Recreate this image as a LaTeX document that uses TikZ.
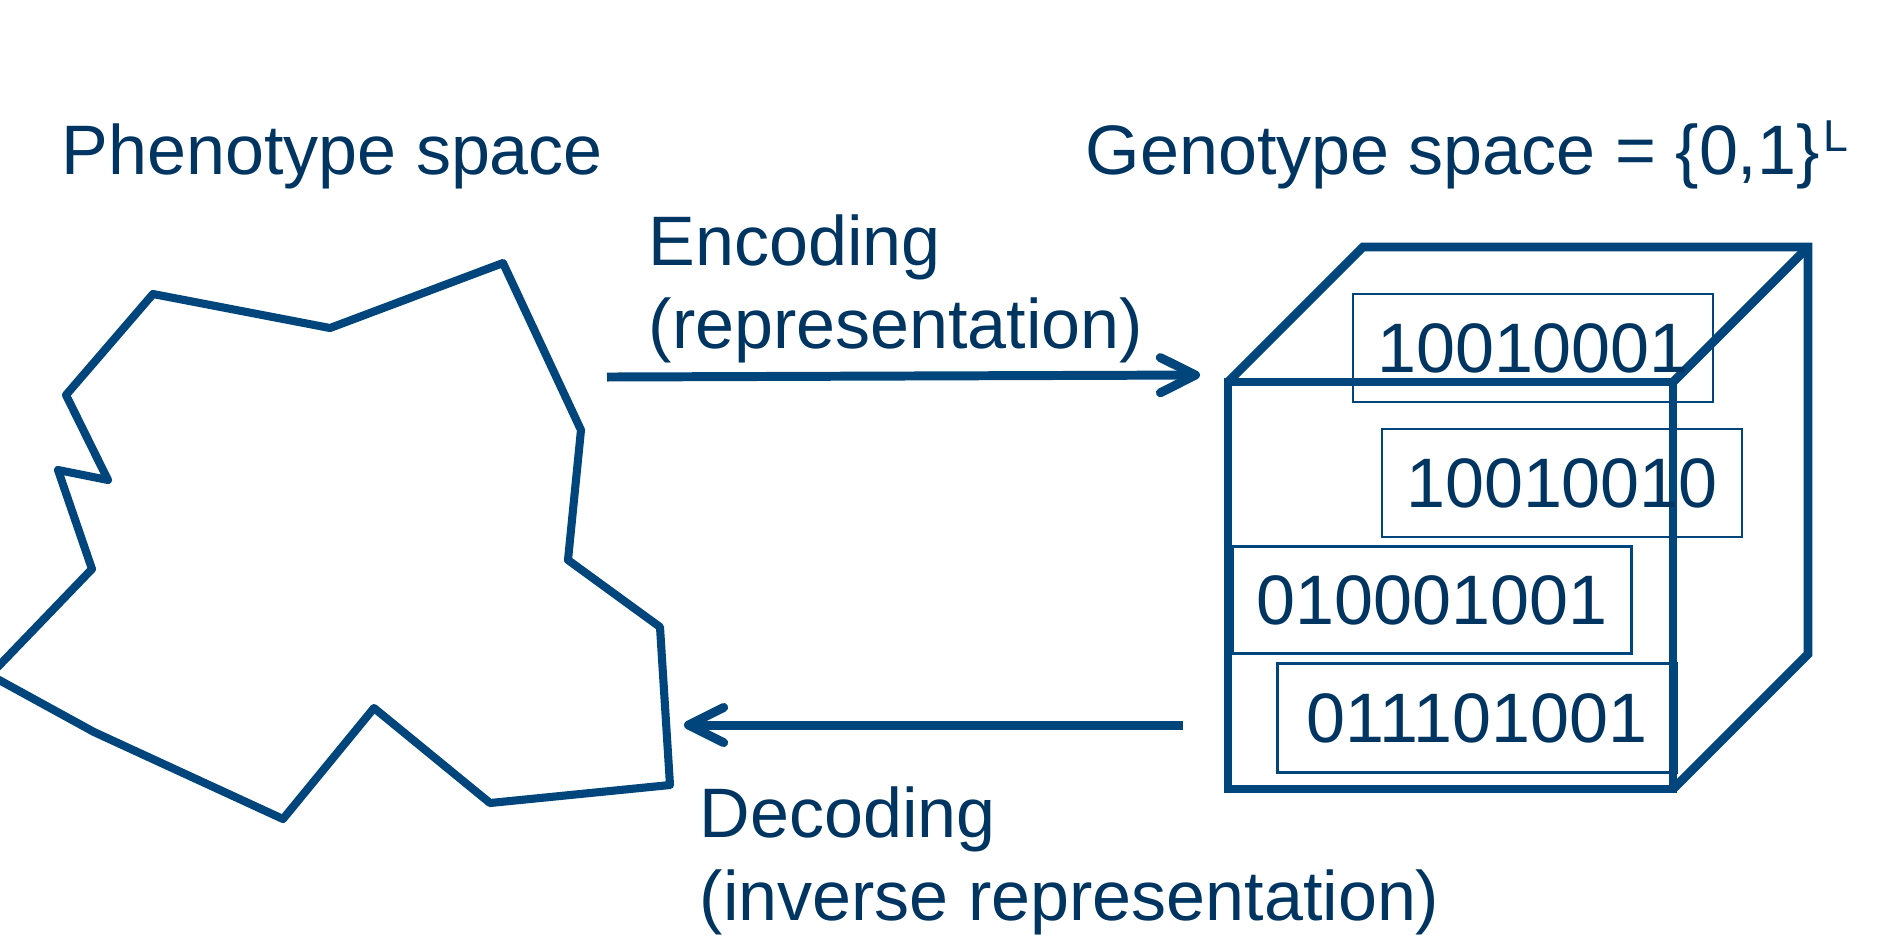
\documentclass[tikz,border=0pt]{standalone}
\usepackage{fontspec}
\setmainfont{Liberation Sans}
\usetikzlibrary{arrows.meta}
\definecolor{lineblue}{HTML}{00457C}
\definecolor{textblue}{HTML}{003562}
\begin{document}
\begin{tikzpicture}[x=0.01cm, y=-0.01cm,
    caption/.style={anchor=base west, inner sep=0pt, align=left, text=textblue, font=\fontsize{19.92pt}{23.6pt}\selectfont},
    bits/.style={draw=lineblue, line width=0.75pt, inner sep=0pt, text=textblue, font=\fontsize{19.92pt}{23.6pt}\selectfont},
    flow/.style={draw=lineblue, line width=2.55pt, -{Straight Barb[length=10pt, width=10pt, round]}}]
    \useasboundingbox (0,0) rectangle (1896,950);
    \node[caption] (pheno) at (61,174) {Phenotype space};
    \node[caption] (geno) at (1085,174) {Genotype space = \{0,1\}\hspace{1pt}\raisebox{6.3pt}{\fontsize{12.7pt}{13pt}\selectfont L}};
    \node[caption] (enc) at (648,348) {Encoding\\(representation)};
    \node[caption] (dec) at (699,920) {Decoding\\(inverse representation)};
    \begin{scope}
      \clip (0,0) rectangle (1896,950);
      \draw[lineblue, line width=2.3pt, line join=round] (153,294) -- (330,328) -- (503,263) -- (581,430) -- (568,560) -- (660,627) -- (670,785) -- (490,803) -- (374,708) -- (283,819) -- (94,732) -- (-10,675) -- (92,569) -- (58,470) -- (108,480) -- (66,395) -- cycle;
    \end{scope}
    \draw[lineblue, line width=2.5pt] (1228,382) rectangle (1673,789);
    \draw[lineblue, line width=2.5pt] (1228,382) -- (1363,247) -- (1808,247) -- (1808,654) -- (1673,789);
    \draw[lineblue, line width=2.5pt] (1673,382) -- (1808,247);
    \node[bits, minimum width=3.6cm, minimum height=1.08cm] (g1) at (1533,348) {10010001};
    \node[bits, minimum width=3.6cm, minimum height=1.08cm] (g2) at (1562,483) {10010010};
    \node[bits, minimum width=3.99cm, minimum height=1.07cm] (g3) at (1432,600) {010001001};
    \node[bits, minimum width=3.99cm, minimum height=1.09cm] (g4) at (1477,718) {011101001};
    \coordinate (encs) at (607,377);
    \coordinate (ence) at (1200,375);
    \coordinate (decs) at (1183,725);
    \coordinate (dece) at (684,725);
    \draw[flow] (encs) -- (ence);
    \draw[flow] (decs) -- (dece);
\end{tikzpicture}
\end{document}
